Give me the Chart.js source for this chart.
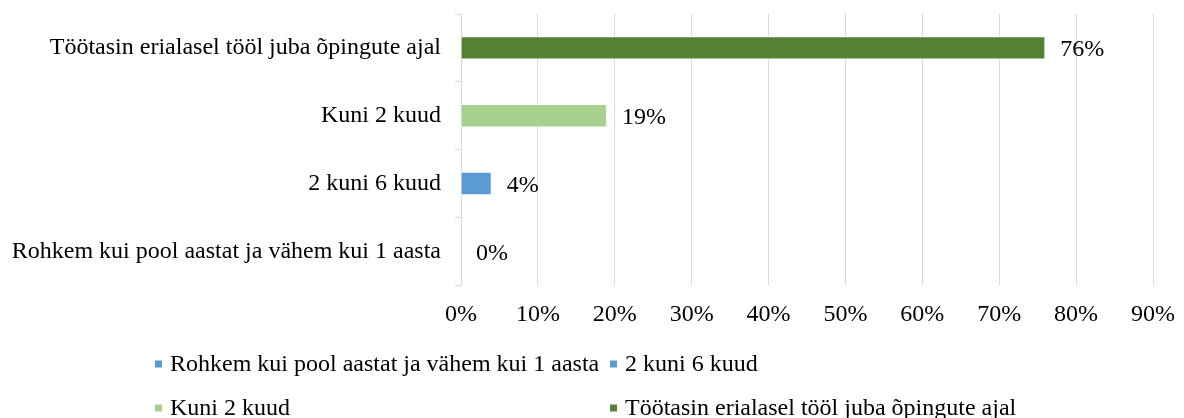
<!DOCTYPE html>
<html>
<head>
<meta charset="utf-8">
<script src="https://cdn.jsdelivr.net/npm/chart.js@4.4.0/dist/chart.umd.min.js"></script>
<style>
html,body{margin:0;padding:0;background:#fff;}
#wrap{width:1184px;height:418px;position:relative;}
</style>
</head>
<body>
<div id="wrap"><canvas id="c" width="1184" height="418"></canvas></div>
<script>
const categories = [
  "Töötasin erialasel tööl juba õpingute ajal",
  "Kuni 2 kuud",
  "2 kuni 6 kuud",
  "Rohkem kui pool aastat ja vähem kui 1 aasta"
];
const values = [76, 19, 4, 0];
const barColors = ["#548235", "#A9D18E", "#5B9BD5", "#5B9BD5"];
const legendOrder = [3, 2, 1, 0];
const xTicks = [0, 10, 20, 30, 40, 50, 60, 70, 80, 90];

const FONT = "'Liberation Serif', 'Times New Roman', serif";
const FS = 24;

const valueLabels = {
  id: 'valueLabels',
  afterDatasetsDraw(chart) {
    const ctx = chart.ctx;
    const meta = chart.getDatasetMeta(0);
    ctx.save();
    ctx.font = FS + 'px ' + FONT;
    ctx.fillStyle = '#000';
    ctx.textBaseline = 'middle';
    ctx.textAlign = 'left';
    meta.data.forEach((bar, i) => {
      ctx.fillText(values[i] + '%', bar.x + 15, bar.y + 2);
    });
    ctx.restore();
  }
};

const gridLegend = {
  id: 'gridLegend',
  afterDraw(chart) {
    const ctx = chart.ctx;
    ctx.save();
    ctx.font = FS + 'px ' + FONT;
    ctx.textBaseline = 'middle';
    const cols = [155, 610];
    const rows = [364, 408];
    legendOrder.forEach((idx, k) => {
      const x = cols[k % 2];
      const y = rows[Math.floor(k / 2)];
      ctx.fillStyle = barColors[idx];
      ctx.fillRect(x, y - 3.5, 7, 7);
      ctx.fillStyle = '#000';
      ctx.fillText(categories[idx], x + 15, y + 1);
    });
    ctx.restore();
  }
};

new Chart(document.getElementById('c'), {
  type: 'bar',
  data: {
    labels: categories,
    datasets: [{
      data: values,
      backgroundColor: barColors,
      borderColor: 'rgba(255,255,255,0.5)',
      borderWidth: 1,
      categoryPercentage: 1,
      barPercentage: 0.345
    }]
  },
  options: {
    indexAxis: 'y',
    responsive: false,
    animation: false,
    layout: { padding: { top: 14, right: 31, bottom: 74, left: 8 } },
    plugins: { legend: { display: false }, tooltip: { enabled: false } },
    scales: {
      x: {
        min: 0, max: 90,
        afterBuildTicks(axis) { axis.ticks = xTicks.map(v => ({ value: v })); },
        afterFit(axis) { axis.paddingLeft = 0; axis.paddingRight = 0; },
        ticks: {
          callback: v => v + '%',
          color: '#000',
          font: { family: FONT, size: FS },
          padding: 15,
          maxRotation: 0
        },
        grid: { color: '#d9d9d9', lineWidth: 1, drawTicks: false },
        border: { display: false }
      },
      y: {
        afterFit(axis) { axis.width = 453; axis.paddingTop = 0; axis.paddingBottom = 0; },
        ticks: {
          color: '#000',
          font: { family: FONT, size: FS },
          padding: 14
        },
        grid: { offset: true, drawOnChartArea: false, color: '#d9d9d9', tickLength: 6 },
        border: { display: true, color: '#d9d9d9' }
      }
    }
  },
  plugins: [valueLabels, gridLegend]
});
</script>
</body>
</html>
